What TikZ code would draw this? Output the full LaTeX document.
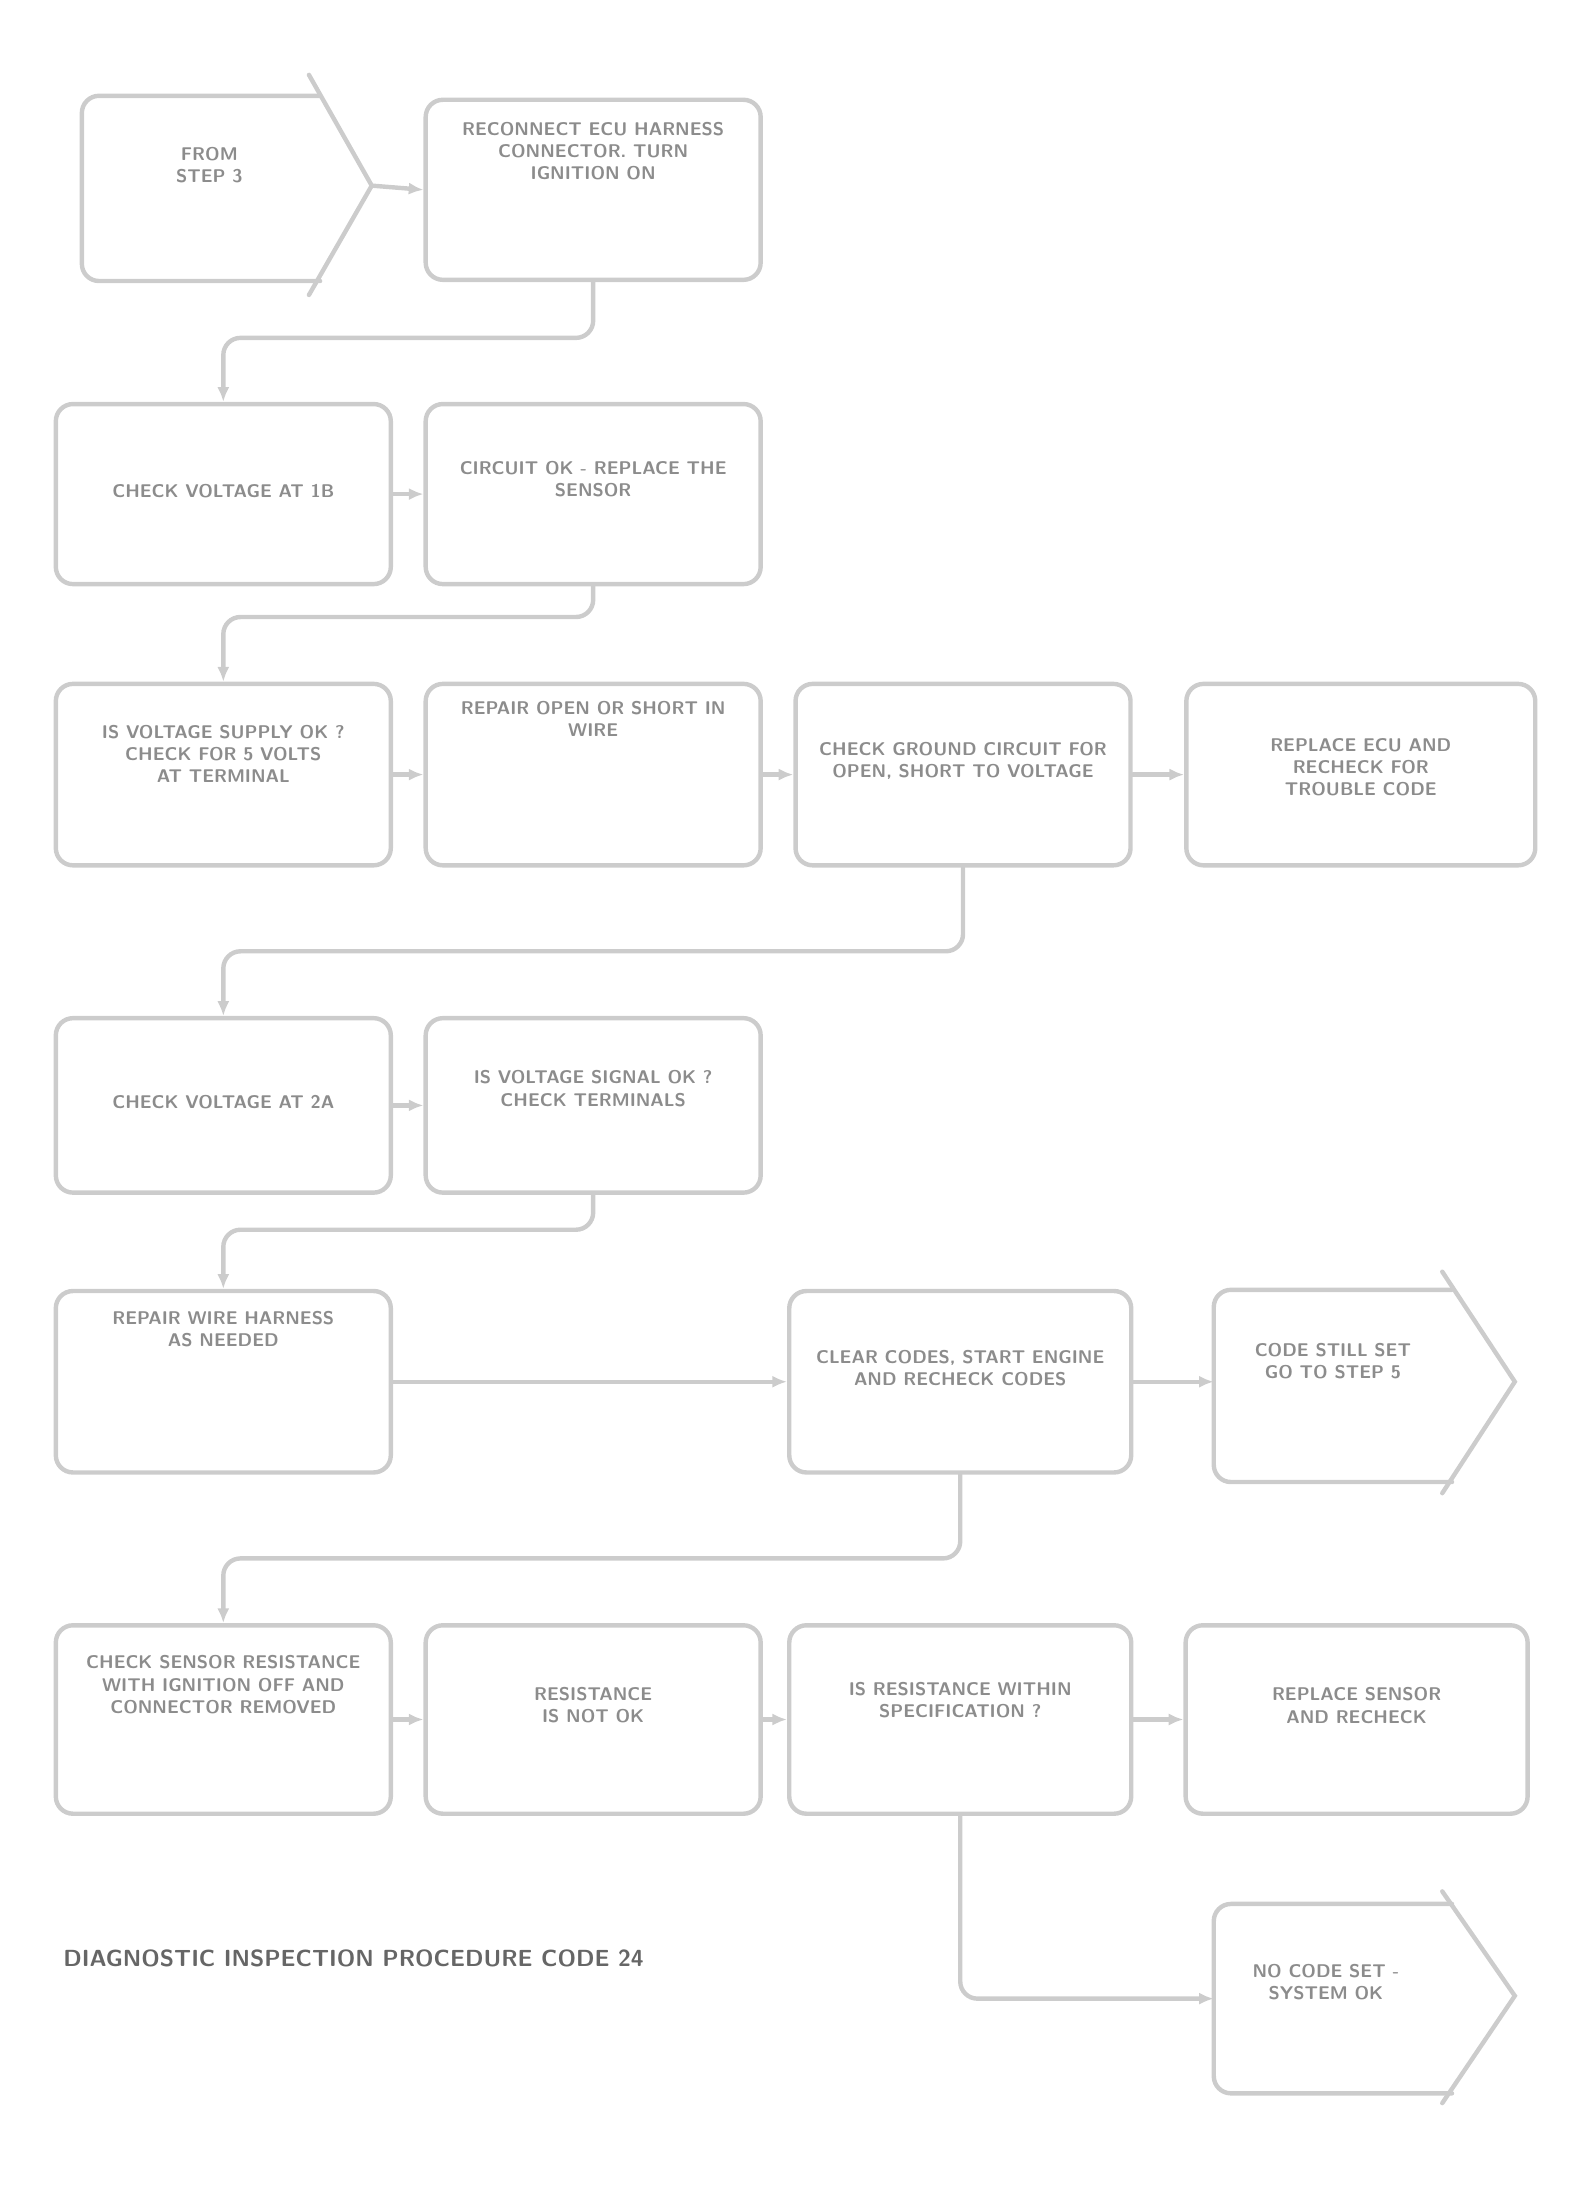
\documentclass[tikz,border=0pt]{standalone}
\usepackage{tikz}
\usetikzlibrary{arrows, arrows.meta}
\usetikzlibrary{calc}

\begin{document}
\begin{tikzpicture}[x=0.2mm, y=-0.2mm,
    box/.style={draw=black!20, line width=1.8pt, rounded corners=7pt, minimum width=48mm, minimum height=25.8mm, inner sep=0pt},
    tag/.style={draw=none, inner sep=0pt, minimum width=34mm, minimum height=26.4mm},
    edge/.style={draw=black!20, line width=1.8pt, rounded corners=7pt, line cap=round},
    link/.style={edge, -{Latex[length=6pt, width=5pt]}},
    txt/.style={font=\fontsize{7.5}{9}\selectfont\sffamily\bfseries, text=black!45, align=center, inner sep=0pt}]
      \useasboundingbox (0,0) rectangle (1130,1577);

      \node[tag] (a) at (144,135) {};
      \node[box] (b) at (425,136) {};
      \node[box] (c) at (160,354) {};
      \node[box] (d) at (425,354) {};
      \node[box, minimum height=26mm] (e) at (160,555) {};
      \node[box, minimum height=26mm] (f) at (425,555) {};
      \node[box, minimum height=26mm] (g) at (690,555) {};
      \node[box, minimum height=26mm, minimum width=50mm] (h) at (975,555) {};
      \node[box, minimum height=25mm] (i) at (160,792) {};
      \node[box, minimum height=25mm] (j) at (425,792) {};
      \node[box, minimum height=26mm] (k) at (160,990) {};
      \node[box, minimum height=26mm, minimum width=49mm] (l) at (688,990) {};
      \node[tag, minimum width=34mm, minimum height=27.4mm] (m) at (955,993) {};
      \node[box, minimum height=27mm] (n) at (160,1232) {};
      \node[box, minimum height=27mm] (o) at (425,1232) {};
      \node[box, minimum height=27mm, minimum width=49mm] (p) at (688,1232) {};
      \node[box, minimum height=27mm, minimum width=49mm] (q) at (972,1232) {};
      \node[tag, minimum width=34mm, minimum height=27mm] (r) at (955,1432) {};

      \coordinate (a tip) at ($(a.east)+(37,-2)$);
      \coordinate (m tip) at ($(m.east)+(45,-3)$);
      \coordinate (r tip) at ($(r.east)+(45,-2)$);

      \draw[edge] (a.north east) -- (a.north west) -- (a.south west) -- (a.south east);
      \draw[edge, rounded corners=0pt] ($(a.north east)+(-8,-15)$) -- (a tip) -- ($(a.south east)+(-8,10)$);
      \draw[edge] (m.north east) -- (m.north west) -- (m.south west) -- (m.south east);
      \draw[edge, rounded corners=0pt] ($(m.north east)+(-7,-13)$) -- (m tip) -- ($(m.south east)+(-7,8)$);
      \draw[edge] (r.north east) -- (r.north west) -- (r.south west) -- (r.south east);
      \draw[edge, rounded corners=0pt] ($(r.north east)+(-7,-9)$) -- (r tip) -- ($(r.south east)+(-7,7)$);

      \node[txt] (a text) at (150,118) {FROM\\ STEP 3};
      \node[txt] (b text) at (425,108) {RECONNECT ECU HARNESS\\ CONNECTOR. TURN\\ IGNITION ON};
      \node[txt] (c text) at (160,352) {CHECK VOLTAGE AT 1B};
      \node[txt] (d text) at (425,343) {CIRCUIT OK - REPLACE THE\\ SENSOR};
      \node[txt] (e text) at (160,540) {IS VOLTAGE SUPPLY OK ?\\ CHECK FOR 5 VOLTS\\ AT TERMINAL};
      \node[txt] (f text) at (425,515) {REPAIR OPEN OR SHORT IN\\ WIRE};
      \node[txt] (g text) at (690,545) {CHECK GROUND CIRCUIT FOR\\ OPEN, SHORT TO VOLTAGE};
      \node[txt] (h text) at (975,550) {REPLACE ECU AND\\ RECHECK FOR\\ TROUBLE CODE};
      \node[txt] (i text) at (160,790) {CHECK VOLTAGE AT 2A};
      \node[txt] (j text) at (425,780) {IS VOLTAGE SIGNAL OK ?\\ CHECK TERMINALS};
      \node[txt] (k text) at (160,952) {REPAIR WIRE HARNESS\\ AS NEEDED};
      \node[txt] (l text) at (688,980) {CLEAR CODES, START ENGINE\\ AND RECHECK CODES};
      \node[txt] (m text) at (955,975) {CODE STILL SET\\ GO TO STEP 5};
      \node[txt] (n text) at (160,1207) {CHECK SENSOR RESISTANCE\\ WITH IGNITION OFF AND\\ CONNECTOR REMOVED};
      \node[txt] (o text) at (425,1222) {RESISTANCE\\ IS NOT OK};
      \node[txt] (p text) at (688,1218) {IS RESISTANCE WITHIN\\ SPECIFICATION ?};
      \node[txt] (q text) at (972,1222) {REPLACE SENSOR\\ AND RECHECK};
      \node[txt] (r text) at (950,1420) {NO CODE SET -\\ SYSTEM OK};
      \node[txt, anchor=west, font=\fontsize{9.5}{11}\selectfont\sffamily\bfseries, text=black!60] (note) at (45,1403) {DIAGNOSTIC INSPECTION PROCEDURE CODE 24};

      \draw[link] (a tip) -- (b.west);
      \draw[link] (b.south) -- ++(0,40) -| (c.north);
      \draw[link] (c.east) -- (d.west);
      \draw[link] (d.south) -- ++(0,22) -| (e.north);
      \draw[link] (e.east) -- (f.west);
      \draw[link] (f.east) -- (g.west);
      \draw[link] (g.east) -- (h.west);
      \draw[link] (g.south) -- ++(0,60) -| (i.north);
      \draw[link] (i.east) -- (j.west);
      \draw[link] (j.south) -- ++(0,25) -| (k.north);
      \draw[link] (k.east) -- (l.west);
      \draw[link] (l.east) -- (l.east -| m.west);
      \draw[link] (l.south) -- ++(0,60) -| (n.north);
      \draw[link] (n.east) -- (o.west);
      \draw[link] (o.east) -- (p.west);
      \draw[link] (p.east) -- (q.west);
      \draw[link] (p.south) |- (r.west);
    \end{tikzpicture}
\end{document}
